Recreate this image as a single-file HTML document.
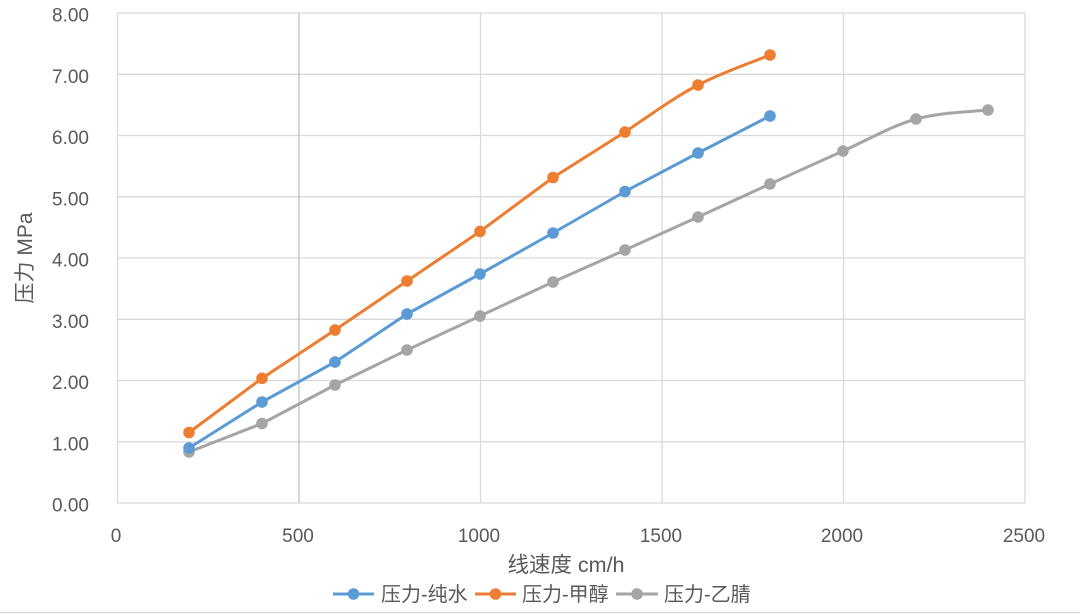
<!DOCTYPE html>
<html>
<head>
<meta charset="utf-8">
<style>
html,body{margin:0;padding:0;background:#fff;}
svg{display:block;}
text{font-family:"Liberation Sans","Noto Sans CJK SC",sans-serif;fill:#595959;}
</style>
</head>
<body>
<svg width="1080" height="614" viewBox="0 0 1080 614" xmlns="http://www.w3.org/2000/svg">
<rect x="0" y="0" width="1080" height="614" fill="#fff"/>
<!-- gridlines horizontal -->
<g stroke="#D9D9D9" stroke-width="1.3" fill="none">
<line x1="117.5" y1="13" x2="1025" y2="13"/>
<line x1="117.5" y1="74.3" x2="1025" y2="74.3"/>
<line x1="117.5" y1="135.5" x2="1025" y2="135.5"/>
<line x1="117.5" y1="196.8" x2="1025" y2="196.8"/>
<line x1="117.5" y1="258" x2="1025" y2="258"/>
<line x1="117.5" y1="319.3" x2="1025" y2="319.3"/>
<line x1="117.5" y1="380.5" x2="1025" y2="380.5"/>
<line x1="117.5" y1="441.8" x2="1025" y2="441.8"/>
<line x1="117.5" y1="503" x2="1025" y2="503"/>
<!-- vertical -->
<line x1="117.5" y1="13" x2="117.5" y2="503"/>
<line x1="480.5" y1="13" x2="480.5" y2="503"/>
<line x1="662" y1="13" x2="662" y2="503"/>
<line x1="843.5" y1="13" x2="843.5" y2="503"/>
<line x1="1025" y1="13" x2="1025" y2="503"/>
</g>
<line x1="299" y1="13" x2="299" y2="503" stroke="#BFBFBF" stroke-width="1.3"/>
<!-- bottom page line -->
<line x1="0" y1="612.5" x2="1080" y2="612.5" stroke="#D9D9D9" stroke-width="1.5"/>

<!-- y tick labels -->
<g font-size="19" text-anchor="end">
<text x="89" y="21.5">8.00</text>
<text x="89" y="82.8">7.00</text>
<text x="89" y="144">6.00</text>
<text x="89" y="205.3">5.00</text>
<text x="89" y="266.5">4.00</text>
<text x="89" y="327.8">3.00</text>
<text x="89" y="389">2.00</text>
<text x="89" y="450.3">1.00</text>
<text x="89" y="511.5">0.00</text>
</g>
<!-- x tick labels -->
<g font-size="19" text-anchor="middle">
<text x="116" y="542">0</text>
<text x="298" y="542">500</text>
<text x="479" y="542">1000</text>
<text x="661" y="542">1500</text>
<text x="842" y="542">2000</text>
<text x="1024" y="542">2500</text>
</g>
<!-- axis titles -->
<text x="566" y="572" font-size="21.5" text-anchor="middle">线速度 cm/h</text>
<text transform="translate(32,258) rotate(-90)" font-size="21" text-anchor="middle">压力 MPa</text>

<!-- series: grey -->
<path d="M189,452 L262,423.5 L335,385 L407,350 L480,316 L553,282 L625,250 L698,217 L770,184 C794.2,173 818.7,161.8 843,151 C867.3,140.2 891.8,125.8 916,119 C940.2,112.2 976,111.5 988,110" fill="none" stroke="#A5A5A5" stroke-width="3" stroke-linejoin="round"/>
<g fill="#A5A5A5">
<circle cx="189" cy="452" r="5.8"/><circle cx="262" cy="423.5" r="5.8"/><circle cx="335" cy="385" r="5.8"/><circle cx="407" cy="350" r="5.8"/><circle cx="480" cy="316" r="5.8"/><circle cx="553" cy="282" r="5.8"/><circle cx="625" cy="250" r="5.8"/><circle cx="698" cy="217" r="5.8"/><circle cx="770" cy="184" r="5.8"/><circle cx="843" cy="151" r="5.8"/><circle cx="916" cy="119" r="5.8"/><circle cx="988" cy="110" r="5.8"/>
</g>
<!-- series: blue -->
<path d="M189,448 L262,402 L335,362 L407,314 L480,274 L553,233 L625,191.5 L698,153 L770,116" fill="none" stroke="#5B9BD5" stroke-width="3" stroke-linejoin="round"/>
<g fill="#5B9BD5">
<circle cx="189" cy="448" r="5.8"/><circle cx="262" cy="402" r="5.8"/><circle cx="335" cy="362" r="5.8"/><circle cx="407" cy="314" r="5.8"/><circle cx="480" cy="274" r="5.8"/><circle cx="553" cy="233" r="5.8"/><circle cx="625" cy="191.5" r="5.8"/><circle cx="698" cy="153" r="5.8"/><circle cx="770" cy="116" r="5.8"/>
</g>
<!-- series: orange -->
<path d="M189,432.5 L262,378.3 L335,330 L407,281 L480,231.5 L553,177.5 L625,132 C649.2,115.7 673.8,97.7 698,85 C722.2,72.3 758,60 770,55" fill="none" stroke="#ED7D31" stroke-width="3" stroke-linejoin="round"/>
<g fill="#ED7D31">
<circle cx="189" cy="432.5" r="5.8"/><circle cx="262" cy="378.3" r="5.8"/><circle cx="335" cy="330" r="5.8"/><circle cx="407" cy="281" r="5.8"/><circle cx="480" cy="231.5" r="5.8"/><circle cx="553" cy="177.5" r="5.8"/><circle cx="625" cy="132" r="5.8"/><circle cx="698" cy="85" r="5.8"/><circle cx="770" cy="55" r="5.8"/>
</g>

<!-- legend -->
<g font-size="20">
<line x1="333" y1="594" x2="374" y2="594" stroke="#5B9BD5" stroke-width="3"/>
<circle cx="353.5" cy="594" r="5.8" fill="#5B9BD5"/>
<text x="381" y="601">压力-纯水</text>
<line x1="475" y1="594" x2="516" y2="594" stroke="#ED7D31" stroke-width="3"/>
<circle cx="495.5" cy="594" r="5.8" fill="#ED7D31"/>
<text x="522" y="601">压力-甲醇</text>
<line x1="616" y1="594" x2="658" y2="594" stroke="#A5A5A5" stroke-width="3"/>
<circle cx="637" cy="594" r="5.8" fill="#A5A5A5"/>
<text x="664" y="601">压力-乙腈</text>
</g>
</svg>
</body>
</html>
